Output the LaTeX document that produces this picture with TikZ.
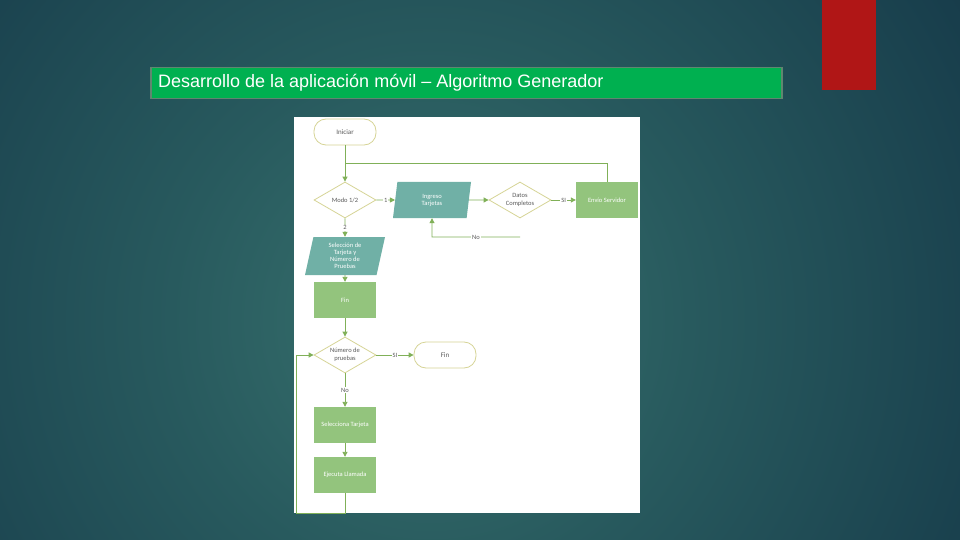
\documentclass[tikz,border=0pt]{standalone}
\usepackage{fontspec}
\setmainfont{Liberation Sans}
\newfontfamily\chartfont{Carlito}
\usetikzlibrary{shapes.geometric,arrows.meta}
\definecolor{bgin}{RGB}{56,114,110}
\definecolor{bgmid}{RGB}{40,90,94}
\definecolor{bgdark}{RGB}{24,62,76}
\definecolor{bgout}{RGB}{14,44,60}
\definecolor{barred}{RGB}{176,22,22}
\definecolor{bargreen}{RGB}{0,176,80}
\definecolor{barline}{RGB}{96,134,112}
\definecolor{flowgreen}{RGB}{128,176,88}
\definecolor{olive}{RGB}{214,212,150}
\definecolor{tealfill}{RGB}{112,176,166}
\definecolor{boxgreen}{RGB}{147,196,125}
\definecolor{inkgrey}{RGB}{90,90,90}
\pgfdeclareradialshading{bgglow}{\pgfpoint{0bp}{0bp}}{color(0bp)=(bgin); color(12bp)=(bgmid); color(28bp)=(bgdark); color(40bp)=(bgout); color(50bp)=(bgout)}

\begin{document}
\begin{tikzpicture}[x=1pt,y=-1pt,
    flow/.style={draw=flowgreen, line width=0.9pt},
    arr/.style={flow, -{Triangle[length=5pt,width=5pt]}},
    lbl/.style={fill=white, inner sep=0.8pt, font=\chartfont\fontsize{6.5}{7.5}\selectfont, text=inkgrey},
    term/.style={draw=olive, fill=white, line width=0.8pt, rounded corners=12pt, minimum width=62pt, minimum height=26pt, font=\chartfont\fontsize{7}{8}\selectfont, text=inkgrey},
    decis/.style={diamond, draw=olive, fill=white, line width=0.8pt, aspect=1.72, inner sep=0pt, minimum width=62pt, minimum height=36pt, align=center, font=\chartfont\fontsize{6.5}{7.5}\selectfont, text=inkgrey},
    datain/.style={trapezium, trapezium left angle=73, trapezium right angle=107, trapezium stretches body, fill=tealfill, inner sep=1pt, minimum width=78pt, minimum height=36pt, align=center, font=\chartfont\fontsize{6.5}{7}\selectfont, text=white},
    procbox/.style={rectangle, fill=boxgreen, minimum width=62pt, minimum height=36pt, font=\chartfont\fontsize{6.5}{7.5}\selectfont, text=white}]

    % background and frame
    \useasboundingbox (0,0) rectangle (960,540);
    \begin{scope}
        \clip (0,0) rectangle (960,540);
        \shade[shading=bgglow] (-110,-220) rectangle (970,860);
    \end{scope}
    \fill[barred] (822,0) rectangle (876,90);
    \node[draw=barline, line width=1.5pt, fill=bargreen, minimum width=631pt, minimum height=31pt, anchor=west, inner sep=0pt] (titlebar) at (150,83) {};
    \node[anchor=west, text=white, font=\fontsize{18}{21}\selectfont, inner sep=0pt] (title) at (158,83) {Desarrollo de la aplicación móvil – Algoritmo Generador};
    \fill[white] (294,117) rectangle (640,513);

    % flowchart nodes
    \node[term] (iniciar) at (345,132) {Iniciar};
    \node[decis] (modo) at (345,200) {Modo 1/2};
    \node[datain] (ingreso) at (432,200) {Ingreso\\Tarjetas};
    \node[decis] (datos) at (520,200) {Datos\\Completos};
    \node[procbox] (envio) at (607,200) {Envío Servidor};
    \node[datain, minimum width=80pt, minimum height=38pt] (seleccion) at (345,256) {Selección de\\Tarjeta y\\Número de\\Pruebas};
    \node[procbox] (finbox) at (345,300) {Fin};
    \node[decis] (numero) at (345,355) {Número de\\pruebas};
    \node[term] (fin) at (445,355) {Fin};
    \node[procbox] (selecciona) at (345,425) {Selecciona Tarjeta};
    \node[procbox] (ejecuta) at (345,475) {Ejecuta Llamada};
    \coordinate (noend) at (520,237);

    % connectors
    \draw[arr] (iniciar.south) -- (modo.north);
    \draw[flow] (envio.north) |- (345,163);
    \draw[arr] (modo.east) -- node[lbl] {1} (ingreso.west);
    \draw[arr] (ingreso.east) -- (datos.west);
    \draw[arr] (datos.east) -- node[lbl] {SI} (envio.west);
    \draw[arr] (noend) -- node[lbl] {No} (432,237) -- (ingreso.south);
    \draw[arr] (modo.south) -- node[lbl] {2} (seleccion.north);
    \draw[arr] (seleccion.south) -- (finbox.north);
    \draw[arr] (finbox.south) -- (numero.north);
    \draw[arr] (numero.east) -- node[lbl] {SI} (fin.west);
    \draw[arr] (numero.south) -- node[lbl] {No} (selecciona.north);
    \draw[arr] (selecciona.south) -- (ejecuta.north);
    \draw[arr] (ejecuta.south) -- (345,513) -- (296,513) |- (numero.west);
\end{tikzpicture}
\end{document}
